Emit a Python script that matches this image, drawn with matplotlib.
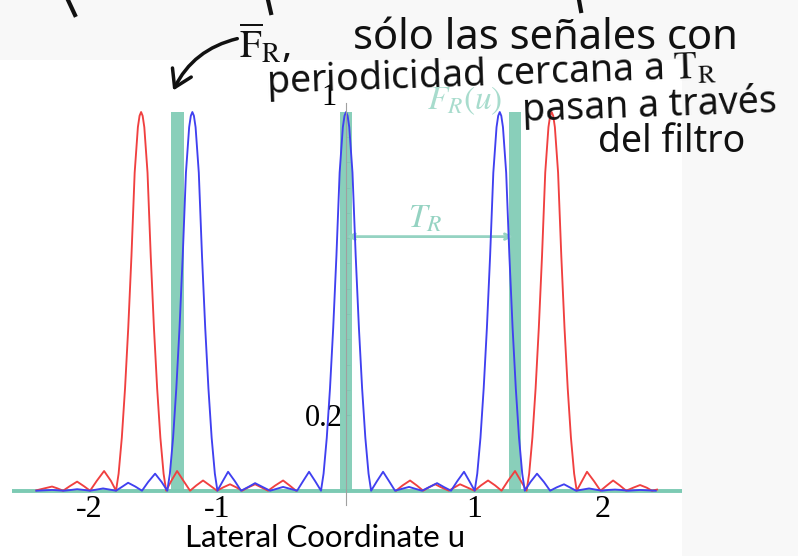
import numpy as np
import matplotlib
matplotlib.use("Agg")
import matplotlib.pyplot as plt
from matplotlib.patches import Rectangle, FancyArrowPatch
from matplotlib.lines import Line2D

# ---- data ----
red_u = [-2.41, -2.35, -2.288, -2.245, -2.202, -2.15, -2.093, -2.04, -1.992, -1.94, -1.883, -1.83, -1.79,
         -1.77, -1.745, -1.72, -1.695, -1.67, -1.645, -1.62, -1.607, -1.595, -1.583, -1.57, -1.545, -1.52,
         -1.495, -1.47, -1.445, -1.42, -1.40, -1.36, -1.315, -1.265, -1.214, -1.165, -1.113, -1.06, -1.004,
         -0.955, -0.903, -0.855, -0.809, -0.76, -0.708, -0.66, -0.607, -0.55, -0.49, -0.44, -0.389,
         np.nan,
         0.389, 0.44, 0.498, 0.55, 0.60, 0.645, 0.693, 0.74, 0.80, 0.845, 0.887, 0.94, 1.00, 1.05, 1.105,
         1.16, 1.21, 1.26, 1.315, 1.36, 1.405, 1.425, 1.45, 1.475, 1.50, 1.525, 1.55, 1.575, 1.588, 1.60,
         1.612, 1.625, 1.65, 1.675, 1.70, 1.725, 1.75, 1.775, 1.795, 1.835, 1.875, 1.93, 1.98, 2.03, 2.078,
         2.13, 2.18, 2.235, 2.288, 2.34, 2.38, 2.42]
red_I = [0.001, 0.006, 0.011, 0.006, 0.0, 0.012, 0.024, 0.012, 0.0, 0.026, 0.052, 0.026, 0.0,
         0.045, 0.14, 0.27, 0.43, 0.62, 0.84, 0.96, 0.99, 1.0, 0.99, 0.96, 0.84, 0.62,
         0.43, 0.27, 0.14, 0.045, 0.0, 0.026, 0.052, 0.026, 0.0, 0.014, 0.027, 0.014, 0.0,
         0.009, 0.017, 0.009, 0.0, 0.009, 0.017, 0.009, 0.0, 0.014, 0.027, 0.014, 0.0,
         np.nan,
         0.0, 0.014, 0.027, 0.014, 0.0, 0.009, 0.017, 0.009, 0.0, 0.009, 0.017, 0.009, 0.0, 0.014, 0.027,
         0.014, 0.0, 0.026, 0.052, 0.026, 0.0, 0.045, 0.14, 0.27, 0.43, 0.62, 0.84, 0.96, 0.99, 1.0,
         0.99, 0.96, 0.84, 0.62, 0.43, 0.27, 0.14, 0.045, 0.0, 0.025, 0.05, 0.025, 0.0, 0.014, 0.027,
         0.014, 0.0, 0.008, 0.015, 0.008, 0.0, 0.003]

blue_u = [-2.41, -2.35, -2.288, -2.24, -2.195, -2.14, -2.093, -2.04, -1.992, -1.94, -1.891, -1.84, -1.79,
          -1.74, -1.696, -1.64, -1.588, -1.54, -1.486, -1.435, -1.391,
          -1.371, -1.346, -1.321, -1.296, -1.271, -1.246, -1.221, -1.208, -1.196, -1.184, -1.171, -1.146,
          -1.121, -1.096, -1.071, -1.046, -1.021, -1.001,
          -0.96, -0.918, -0.865, -0.817, -0.76, -0.708, -0.65, -0.591, -0.54, -0.49, -0.435, -0.381,
          -0.335, -0.288, -0.24, -0.195,
          -0.175, -0.15, -0.125, -0.10, -0.075, -0.05, -0.025, -0.012, 0.0, 0.012, 0.025, 0.05, 0.075,
          0.10, 0.125, 0.15, 0.175, 0.195,
          0.24, 0.288, 0.335, 0.381, 0.435, 0.49, 0.54, 0.591, 0.65, 0.708, 0.76, 0.817, 0.865, 0.918,
          0.96, 1.001,
          1.021, 1.046, 1.071, 1.096, 1.121, 1.146, 1.171, 1.184, 1.196, 1.208, 1.221, 1.246, 1.271, 1.296,
          1.321, 1.346, 1.371, 1.391,
          1.435, 1.486, 1.54, 1.588, 1.64, 1.696, 1.74, 1.79, 1.84, 1.891, 1.94, 1.992, 2.04, 2.093, 2.14,
          2.195, 2.24, 2.288, 2.35, 2.41]
blue_I = [0.0, 0.001, 0.002, 0.001, 0.0, 0.002, 0.004, 0.002, 0.0, 0.003, 0.006, 0.003, 0.0,
          0.011, 0.021, 0.011, 0.0, 0.023, 0.045, 0.023, 0.0,
          0.045, 0.14, 0.27, 0.43, 0.62, 0.84, 0.96, 0.99, 1.0, 0.99, 0.96, 0.84,
          0.62, 0.43, 0.27, 0.14, 0.045, 0.0,
          0.025, 0.05, 0.025, 0.0, 0.01, 0.02, 0.01, 0.0, 0.005, 0.01, 0.005, 0.0,
          0.025, 0.05, 0.025, 0.0,
          0.045, 0.14, 0.27, 0.43, 0.62, 0.84, 0.96, 0.99, 1.0, 0.99, 0.96, 0.84, 0.62,
          0.43, 0.27, 0.14, 0.045, 0.0,
          0.025, 0.05, 0.025, 0.0, 0.005, 0.01, 0.005, 0.0, 0.01, 0.02, 0.01, 0.0, 0.025, 0.05,
          0.025, 0.0,
          0.045, 0.14, 0.27, 0.43, 0.62, 0.84, 0.96, 0.99, 1.0, 0.99, 0.96, 0.84, 0.62, 0.43,
          0.27, 0.14, 0.045, 0.0,
          0.023, 0.045, 0.023, 0.0, 0.009, 0.017, 0.009, 0.0, 0.003, 0.006, 0.003, 0.0, 0.002, 0.003, 0.002,
          0.0, 0.001, 0.002, 0.001, 0.0]

# filter F_R(u): narrow pass bands at multiples of T_R
filter_u = [-1.313, 0.0, 1.315]
filter_h = [1.0, 1.0, 1.0]
filter_w = 0.1
baseline_u = [-2.6, 2.615]
baseline_I = [0.0, 0.0]

xtick_pos = [-2, -1, 1, 2]
xtick_lab = ["-2", "-1", "1", "2"]

teal = "#7ccab3"

plt.rcParams["mathtext.fontset"] = "stix"

fig = plt.figure(figsize=(7.98, 5.56), dpi=100, facecolor="#f8f8f8")
fig.patches.append(Rectangle((0, 0), 682 / 798, 496 / 556, transform=fig.transFigure,
                             facecolor="white", edgecolor="none", zorder=-1))

ax = fig.add_axes([0, 0, 1, 1])
ax.patch.set_alpha(0)
ax.set_xlim(-2.693, 3.517)
ax.set_ylim(-0.1724, 1.2958)

ax.plot(baseline_u, baseline_I, color=teal, lw=2.8, zorder=1, solid_capstyle="butt")
ax.bar(filter_u, filter_h, width=filter_w, color=teal, zorder=2, alpha=0.9)
ax.plot(red_u, red_I, color="#f04040", lw=1.35, zorder=3, solid_joinstyle="round")
ax.plot(blue_u, blue_I, color="#4040f0", lw=1.35, zorder=4, solid_joinstyle="round")

# axes: only a thin vertical line at u = 0
for s in ["top", "right"]:
    ax.spines[s].set_visible(False)
ax.spines["bottom"].set_position(("data", 0))
ax.spines["bottom"].set_visible(False)
ax.spines["left"].set_position(("data", 0))
ax.spines["left"].set_color("#a0a0a0")
ax.spines["left"].set_linewidth(0.8)
ax.spines["left"].set_bounds(-0.038, 1.024)
ax.spines["left"].set_zorder(5)

ax.set_xticks(xtick_pos)
ax.set_xticklabels(xtick_lab, fontfamily="Liberation Serif", fontsize=23)
ax.tick_params(axis="x", length=0, pad=3)
ax.set_yticks([0.2])
ax.set_yticklabels(["0.2"], fontfamily="Liberation Serif", fontsize=22)
ax.set_yticks([0.267, 0.333, 0.4, 0.467, 0.533, 0.6, 0.667, 0.733, 0.8, 0.867, 0.933], minor=True)
ax.tick_params(axis="y", which="both", direction="in", length=3, color="#a0a0a0", pad=2)
ax.text(-0.075, 1.0, "1", fontfamily="Liberation Serif", fontsize=22, ha="right", va="bottom")

ax.text(-0.163, -0.125, "Lateral Coordinate u", fontfamily="Lato", fontsize=22.5,
        ha="center", va="center")

# filter annotations
ax.text(0.926, 1.03, r"$F_R(u)$", fontsize=24, color="#a8dccd", ha="center", va="center")
ax.text(0.615, 0.72, r"$T_R$", fontsize=24, color="#95d3c2", ha="center", va="center")
ax.annotate("", xy=(1.30, 0.671), xytext=(0.005, 0.671),
            arrowprops=dict(arrowstyle="<->", color="#95d3c2", lw=2, shrinkA=0, shrinkB=0))

# handwritten note
hand = dict(fontfamily="Noto Sans", color="#111111", ha="center", va="center")
fig.text(265 / 798, 1 - 45 / 556, r"$\overline{\mathrm{F}}_{\mathrm{R}}$,", fontsize=28, **hand)
fig.text(545 / 798, 1 - 38 / 556, "sólo las señales con", fontsize=30, **hand)
fig.text(491 / 798, 1 - 75 / 556, r"periodicidad cercana a $\mathrm{T_R}$", fontsize=27,
         rotation=2, **hand)
fig.text(650 / 798, 1 - 106 / 556, "pasan a través", fontsize=27, rotation=2, **hand)
fig.text(672 / 798, 1 - 142 / 556, "del filtro", fontsize=27, **hand)
fig.patches.append(FancyArrowPatch(
    (240 / 798, 1 - 38 / 556), (172 / 798, 1 - 93 / 556), transform=fig.transFigure,
    connectionstyle="arc3,rad=0.25", arrowstyle="->,head_length=8,head_width=5",
    color="#111111", lw=2.5, mutation_scale=1.5))
for x0, x1, y1 in [(68, 75, 15), (268, 271, 13), (579, 581, 11)]:
    fig.lines.append(Line2D([x0 / 798, x1 / 798], [1, 1 - y1 / 556], transform=fig.transFigure,
                            color="#111111", lw=3))

fig.savefig("out.png", dpi=100, facecolor=fig.get_facecolor())
